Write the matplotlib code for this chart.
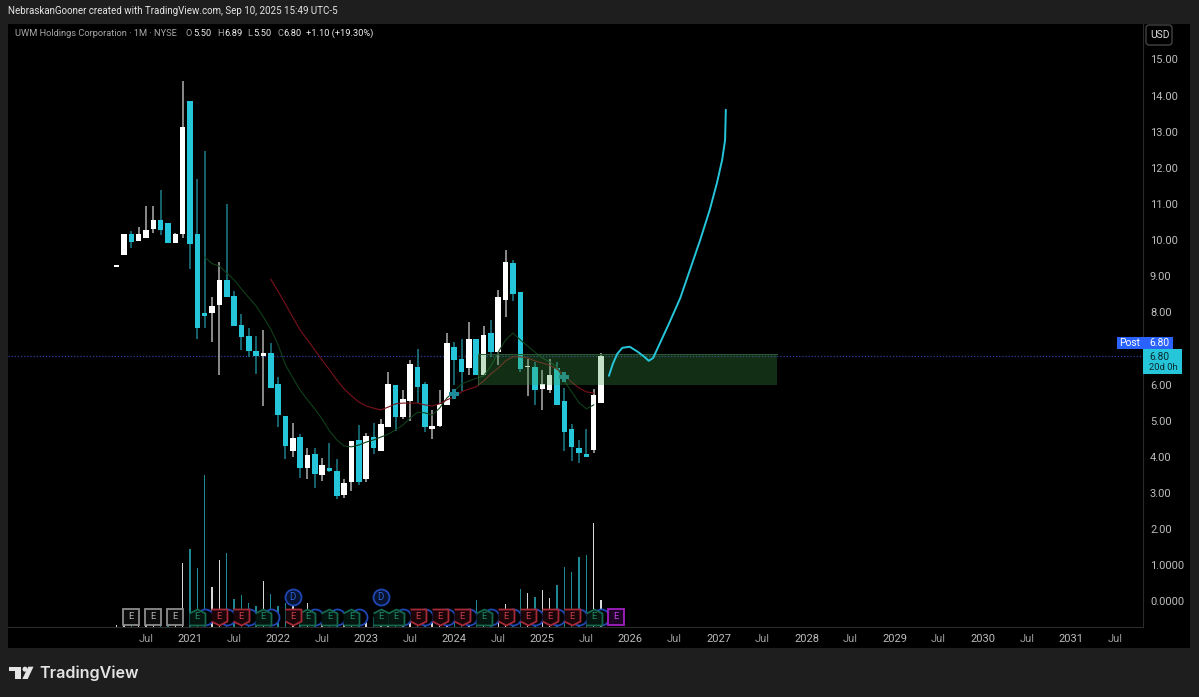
import matplotlib
matplotlib.use('Agg')
import matplotlib.pyplot as plt
from matplotlib.patches import Rectangle, Polygon, Circle, FancyBboxPatch

W, H = 1199, 697

# months counted from Jan 2021
first_month = -10
opens = [9.25, 9.59, 10.16, 9.98, 10.05, 10.31, 10.56, 10.47, 9.93, 10.18,
         13.84, 10.16, 7.99, 7.97, 8.20, 8.90, 8.45, 7.64, 7.36, 6.93,
         6.79, 6.88, 6.01, 5.12, 4.17, 4.55, 3.69, 4.07, 3.50, 3.69,
         3.60, 2.95, 3.30, 4.47, 3.38, 4.55, 4.17, 4.84, 5.98, 5.10,
         5.55, 6.50, 6.02, 4.77, 4.86, 5.44, 7.05, 6.71, 6.45, 7.26,
         6.27, 7.42, 6.91, 8.34, 9.38, 8.56, 6.48, 6.50, 5.88, 5.85,
         6.45, 5.55, 4.77, 4.25, 4.09, 4.19, 5.50]
highs = [9.30, 10.16, 10.26, 10.36, 10.95, 10.95, 11.39, 10.47, 10.21, 14.40,
         13.84, 11.68, 12.46, 8.43, 9.40, 11.00, 8.59, 7.96, 7.57, 7.34,
         7.51, 7.14, 6.21, 5.12, 4.95, 4.63, 4.24, 4.24, 3.96, 4.38,
         3.93, 3.39, 4.44, 4.88, 4.65, 4.93, 5.04, 6.36, 5.98, 5.85,
         6.68, 6.98, 6.07, 5.30, 5.85, 7.44, 7.17, 7.26, 7.74, 7.26,
         7.62, 7.79, 8.62, 9.74, 9.45, 8.56, 6.71, 6.62, 6.41, 6.71,
         6.62, 5.90, 4.91, 4.47, 4.77, 5.88, 6.89]
lows = [9.25, 9.59, 9.79, 9.98, 10.05, 10.21, 10.15, 9.93, 9.93, 10.05,
        9.20, 7.26, 7.56, 7.19, 6.27, 8.43, 7.62, 6.96, 6.77, 6.30,
        5.42, 5.92, 4.83, 3.94, 4.00, 3.41, 3.39, 3.15, 3.34, 3.57,
        2.84, 2.86, 3.06, 3.22, 3.31, 4.07, 4.17, 4.84, 4.73, 5.04,
        4.99, 5.50, 4.70, 4.50, 4.82, 5.44, 5.99, 5.83, 6.26, 6.27,
        6.27, 6.77, 6.54, 7.87, 8.32, 6.34, 5.69, 5.44, 5.30, 5.78,
        5.44, 4.16, 3.89, 3.82, 4.00, 4.12, 5.50]
closes = [9.30, 10.16, 9.96, 10.16, 10.27, 10.56, 10.28, 9.93, 10.16, 13.14,
          9.90, 7.56, 7.90, 8.18, 8.90, 8.43, 7.62, 7.33, 6.94, 6.79,
          6.88, 5.92, 5.16, 4.31, 4.52, 3.69, 4.04, 3.52, 3.78, 3.60,
          2.93, 3.27, 4.44, 3.30, 4.58, 4.25, 4.90, 6.01, 5.10, 5.61,
          6.56, 5.94, 4.84, 4.86, 5.47, 7.16, 6.68, 6.36, 7.26, 6.27,
          7.37, 6.91, 8.42, 9.40, 8.51, 6.42, 6.52, 5.85, 6.03, 6.28,
          5.44, 4.68, 4.28, 4.12, 4.00, 5.71, 6.80]
volumes = [2, 2, 3, 3, 2, 3, 3, 2, 3, 64,
           78, 59, 152, 40, 67, 74, 28, 32, 24, 21,
           46, 33, 21, 24, 23, 17, 24, 14, 12, 12,
           13, 10, 16, 15, 14, 10, 11, 14, 12, 10,
           12, 11, 10, 10, 11, 14, 13, 12, 14, 27,
           14, 12, 15, 23, 13, 38, 34, 30, 37, 29,
           42, 60, 55, 70, 72, 104, 27]

green_start = 2
green_ma = [9.53, 9.35, 9.28, 9.09, 8.90, 8.65, 8.41, 8.18, 7.87, 7.54, 7.10, 6.55,
            6.19, 5.85, 5.58, 5.33, 5.05, 4.72, 4.47, 4.30, 4.28, 4.33, 4.41, 4.47,
            4.55, 4.63, 4.75, 4.88, 5.08, 5.24, 5.22, 5.16, 5.35, 5.63, 5.82, 6.02,
            6.10, 6.18, 6.24, 6.52, 6.90, 7.24, 7.43, 7.24, 7.07, 6.90, 6.74, 6.63,
            6.49, 6.10, 5.80, 5.50, 5.33, 5.44]
red_start = 11
red_ma = [8.92, 8.58, 8.23, 7.87, 7.51, 7.24, 6.96, 6.68, 6.41, 6.13, 5.88, 5.69,
          5.52, 5.41, 5.35, 5.30, 5.38, 5.47, 5.49, 5.49, 5.49, 5.44, 5.41, 5.47,
          5.58, 5.66, 5.80, 5.88, 5.94, 6.10, 6.30, 6.46, 6.66, 6.77, 6.77, 6.74,
          6.66, 6.60, 6.54, 6.43, 6.27, 6.07, 5.91, 5.80, 5.77]

forecast_month = [57.08, 57.6, 58.2, 58.9, 59.9, 61.0, 61.9, 62.5, 63.1, 63.6,
                  65.3, 66.8, 68.1, 69.5, 70.8, 71.8, 72.5, 72.9, 73.0]
forecast_price = [6.25, 6.57, 6.85, 7.02, 7.05, 6.91, 6.77, 6.66, 6.74, 6.96,
                  7.71, 8.40, 9.17, 10.00, 10.83, 11.59, 12.22, 12.77, 13.60]

zone_left, zone_right = 39.3, 80.0
zone_top, zone_bottom = 6.84, 5.99
last_price = 6.80
cross_months = [36, 51]
cross_prices = [5.75, 6.21]

grey_earn = [-8, -5, -2]
green_earn = [1, 10, 16, 19, 22, 26, 28, 40, 55]
red_earn = [4, 7, 14, 31, 34, 37, 43, 46, 49, 52]
next_earn = [58]
div_months = [2, 5, 8, 11, 17, 20, 23, 29, 32, 35, 38, 41, 44, 47, 50, 53, 56]
div_labeled = [14, 26]

tick_months = list(range(-6, 127, 6))
tick_labels = ['Jul', '2021', 'Jul', '2022', 'Jul', '2023', 'Jul', '2024', 'Jul', '2025', 'Jul',
               '2026', 'Jul', '2027', 'Jul', '2028', 'Jul', '2029', 'Jul', '2030', 'Jul', '2031', 'Jul']
# 7.00 sits under the Post label in the reference
price_ticks = [0, 1, 2, 3, 4, 5, 6, 8, 9, 10, 11, 12, 13, 14, 15]
price_labels = ['0.0000', '1.0000', '2.00', '3.00', '4.00', '5.00', '6.00', '8.00',
                '9.00', '10.00', '11.00', '12.00', '13.00', '14.00', '15.00']

UP = '#ffffff'
DOWN = '#26c6da'
UP_WICK = '#b0b0b0'
DOWN_WICK = '#1d7f8a'
TEXT = '#bcbcbc'
FONT = ['Roboto', 'DejaVu Sans']
plt.rcParams['font.family'] = FONT


def px_x(x):
    return x / W


def px_y(y):
    return 1 - y / H


def px_box(x0, y0, x1, y1, color, **kw):
    fig.add_artist(Rectangle((px_x(x0), px_y(y1)), (x1 - x0) / W, (y1 - y0) / H,
                             transform=fig.transFigure, fc=color, lw=0, **kw))


fig = plt.figure(figsize=(W / 100, H / 100), dpi=100, facecolor='#1e1e1e')
px_box(8, 24, 1190, 648, '#000000', zorder=-1)

pos = [8 / W, 1 - 627 / H, (1143 - 8) / W, (627 - 24) / H]
vol_ax = fig.add_axes(pos, zorder=1)
ax = fig.add_axes(pos, zorder=2)
ax.patch.set_visible(False)
xlim = (-24.8, 129.84)
ax.set_xlim(xlim)
ax.set_ylim(-0.707, 15.982)

# volume
vol_ax.set_facecolor('#000000')
vol_ax.set_xlim(xlim)
vol_ax.set_ylim(0, 603)
vol_ax.axis('off')
for i, v in enumerate(volumes):
    up = closes[i] >= opens[i]
    vol_ax.bar(first_month + i, v, width=0.2, color='#d8d8d8' if up else '#1f8791', lw=0)

# moving averages
ax.plot(range(green_start, green_start + len(green_ma)), green_ma, color='#0f4019', lw=0.8, zorder=4)
ax.plot(range(red_start, red_start + len(red_ma)), red_ma, color='#7a121b', lw=0.8, zorder=4)

# candles
for i in range(len(opens)):
    m = first_month + i
    up = closes[i] >= opens[i]
    ax.plot([m, m], [lows[i], highs[i]], color=UP_WICK if up else DOWN_WICK, lw=1.1, zorder=2,
            solid_capstyle='butt')
    bottom = min(opens[i], closes[i])
    ax.add_patch(Rectangle((m - 0.38, bottom), 0.76, abs(closes[i] - opens[i]),
                           fc=UP if up else DOWN, lw=0, zorder=3))

ax.plot(cross_months, cross_prices, linestyle='none', marker='P', ms=6.5, mfc='#1f8a99', mew=0, zorder=5)

# zone and forecast
ax.add_patch(Rectangle((zone_left, zone_bottom), zone_right - zone_left, zone_top - zone_bottom,
                       fc='#3d9c4a', alpha=0.3, lw=0, zorder=6))
ax.plot([zone_left, zone_left, zone_right], [zone_bottom, zone_top, zone_top], color='#2c5a33', lw=0.7, zorder=6)
ax.plot(forecast_month, forecast_price, color='#26c6da', lw=1.4, zorder=7)
ax.axhline(last_price, color='#2f3f9e', lw=0.9, ls=(0, (1, 1.5)), zorder=1)

# dividends and earnings flags
flag_y = -0.43
d_y = 0.12
ax.plot(div_months, [flag_y] * len(div_months), linestyle='none', marker='o', ms=11.5,
        mfc='#000000', mec='#1f47b5', mew=1.3, zorder=8)
ax.plot(div_labeled, [d_y] * len(div_labeled), linestyle='none', marker='o', ms=11.5,
        mfc='#06122e', mec='#1f47b5', mew=1.3, zorder=8)
for m in div_labeled:
    ax.text(m, d_y, 'D', color='#2f5fd0', fontsize=7, ha='center', va='center', zorder=9)

house = [(-1, -1), (1, -1), (1, 0.5), (0, 1), (-1, 0.5)]
shield = [(-1, 1), (1, 1), (1, -0.5), (0, -1), (-1, -0.5)]
flags = [(grey_earn, 's', '#8c8c8c', '#0c0c0c', '#b0b0b0'),
         (green_earn, house, '#15684e', '#04140f', '#1f8a68'),
         (red_earn, shield, '#a52a38', '#1c0508', '#c83c4c'),
         (next_earn, 's', '#a020c0', '#1d0424', '#c040e0')]
for months, marker, edge, face, txt in flags:
    ax.plot(months, [flag_y] * len(months), linestyle='none', marker=marker, ms=11.5,
            mfc=face, mec=edge, mew=1.3, zorder=10)
    for m in months:
        ax.text(m, flag_y, 'E', color=txt, fontsize=6.8, ha='center', va='center', zorder=11)

# axes
ax.yaxis.tick_right()
ax.set_yticks(price_ticks, price_labels)
ax.set_xticks(tick_months, tick_labels)
ax.tick_params(axis='both', length=0)
ax.tick_params(axis='y', pad=5, labelsize=8, labelcolor=TEXT)
ax.tick_params(axis='x', pad=5, labelsize=8, labelcolor=TEXT)
for lab in ax.get_xticklabels():
    if lab.get_text() == 'Jul':
        lab.set_color('#9a9a9a')
for name in ['top', 'left']:
    ax.spines[name].set_visible(False)
for name in ['right', 'bottom']:
    ax.spines[name].set_color('#2a2a2a')
    ax.spines[name].set_linewidth(0.8)

# price labels
px_box(1117, 337, 1173, 349, '#2962ff', zorder=20)
px_box(1143, 349, 1182, 374, '#26c6da', zorder=20)
fig.text(px_x(1130), px_y(343), 'Post', color='white', fontsize=7.4, ha='center', va='center', zorder=21)
fig.text(px_x(1149), px_y(343), '6.80', color='white', fontsize=7.4, ha='left', va='center', zorder=21)
fig.text(px_x(1149), px_y(356.5), '6.80', color='#0b2a30', fontsize=7.4, ha='left', va='center', zorder=21)
fig.text(px_x(1149), px_y(367.5), '20d 0h', color='#0b2a30', fontsize=6.8, ha='left', va='center', zorder=21)

# USD button
fig.add_artist(FancyBboxPatch((1147, H - 44), 24, 18, boxstyle='round,pad=1,rounding_size=3',
                              transform=None, fc='#000000', ec='#4a4a4a', lw=0.9, zorder=20))
fig.text(px_x(1160), px_y(35), 'USD', color='#dddddd', fontsize=7.4, ha='center', va='center', zorder=21)

# header
fig.text(px_x(8), px_y(11.5), 'NebraskanGooner created with TradingView.com, Sep 10, 2025 15:49 UTC-5',
         color='#e6e6e6', fontsize=7, ha='left', va='center')
legend_parts = [(15, 'UWM Holdings Corporation · 1M · NYSE', '#a8a8a8'),
                (186, 'O', '#a8a8a8'), (193, '5.50', '#eeeeee'),
                (217, 'H', '#a8a8a8'), (224, '6.89', '#eeeeee'),
                (247, 'L', '#a8a8a8'), (253, '5.50', '#eeeeee'),
                (277, 'C', '#a8a8a8'), (283, '6.80', '#eeeeee'),
                (306, '+1.10 (+19.30%)', '#eeeeee')]
for x, s, c in legend_parts:
    fig.text(px_x(x), px_y(33.5), s, color=c, fontsize=6.7, ha='left', va='center')

# logo
logo = '#e4e4e4'
for pts in [[(9.3, 666.7), (20.7, 666.7), (20.7, 679), (15, 679), (15, 670.7), (9.3, 670.7)],
            [(28.3, 666.7), (33.5, 666.7), (27.7, 679), (22.3, 679)]]:
    fig.add_artist(Polygon([(px_x(x), px_y(y)) for x, y in pts], closed=True, transform=fig.transFigure,
                           fc=logo, lw=0))
fig.add_artist(Circle((25, H - 669.2), 2.5, transform=None, fc=logo, lw=0))
fig.text(px_x(39), px_y(673), 'TradingView', color=logo, fontsize=11.6, fontweight='semibold',
         family=['Inter', 'DejaVu Sans'], ha='left', va='center')

fig.savefig('out.png', dpi=100, facecolor=fig.get_facecolor())
